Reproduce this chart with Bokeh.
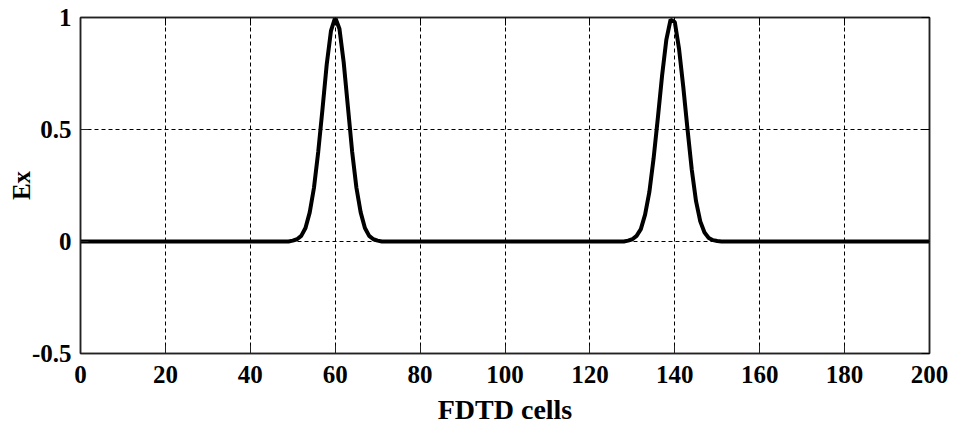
from bokeh.plotting import figure
from bokeh.models import LinearAxis, FixedTicker, Range1d
from bokeh.embed import file_html
from bokeh.resources import INLINE

# ---- data ----
cells = list(range(0, 201))
peak1_start = 50
peak1_values = [0.004, 0.01, 0.025, 0.06, 0.13, 0.24, 0.40, 0.59, 0.79, 0.94, 1.0,
                0.95, 0.80, 0.60, 0.40, 0.24, 0.13, 0.06, 0.025, 0.01, 0.004]
peak2_start = 129
peak2_values = [0.004, 0.01, 0.025, 0.055, 0.12, 0.22, 0.37, 0.55, 0.74, 0.90, 0.99,
                0.98, 0.86, 0.69, 0.50, 0.32, 0.18, 0.09, 0.04, 0.016, 0.006, 0.002]
x_ticks = [0, 20, 40, 60, 80, 100, 120, 140, 160, 180, 200]
y_ticks = [-0.5, 0, 0.5, 1]
y_tick_labels = ["-0.5", "0", "0.5", "1"]
x_label = "FDTD cells"
y_label = "Ex"

ex = [0.0] * len(cells)
for i, v in enumerate(peak1_values):
    ex[peak1_start + i] = v
for i, v in enumerate(peak2_values):
    ex[peak2_start + i] = v

FONT = "Liberation Serif"

p = figure(frame_width=849, frame_height=336, min_border_left=80, min_border_right=27,
           min_border_top=17, min_border_bottom=79,
           x_range=Range1d(0, 200), y_range=Range1d(-0.5, 1),
           output_backend="svg", toolbar_location=None,
           background_fill_color="white", border_fill_color="white")

p.line(cells, ex, line_color="black", line_width=4)

p.outline_line_color = "#222222"
p.outline_line_width = 1.5

for ax in (p.xaxis[0], p.yaxis[0]):
    ax.axis_line_color = "#222222"
    ax.axis_line_width = 1.5
    ax.major_tick_in = 8
    ax.major_tick_out = 0
    ax.minor_tick_line_color = None
    ax.major_tick_line_color = "#222222"
    ax.major_label_text_font = FONT
    ax.major_label_text_font_style = "bold"
    ax.major_label_text_font_size = "25px"
    ax.major_label_text_color = "black"
    ax.axis_label_text_font = FONT
    ax.axis_label_text_font_style = "bold"
    ax.axis_label_text_color = "black"

p.xaxis[0].ticker = FixedTicker(ticks=x_ticks)
p.xaxis[0].major_label_standoff = 12
p.xaxis[0].axis_label = x_label
p.xaxis[0].axis_label_text_font_size = "28px"
p.xaxis[0].axis_label_standoff = 8

p.yaxis[0].ticker = FixedTicker(ticks=y_ticks)
p.yaxis[0].major_label_overrides = {t: s for t, s in zip(y_ticks, y_tick_labels)}
p.yaxis[0].major_label_standoff = 9
p.yaxis[0].axis_label = y_label
p.yaxis[0].axis_label_text_font_size = "25px"
p.yaxis[0].axis_label_standoff = -6

top = LinearAxis(ticker=FixedTicker(ticks=x_ticks), major_tick_in=8, major_tick_out=0,
                 minor_tick_line_color=None,
                 major_label_overrides={t: "" for t in x_ticks},
                 major_label_standoff=0, axis_line_color="#222222", axis_line_width=1.5)
right = LinearAxis(ticker=FixedTicker(ticks=y_ticks), major_tick_in=8, major_tick_out=0,
                   minor_tick_line_color=None,
                   major_label_overrides={t: "" for t in y_ticks},
                   major_label_standoff=0, axis_line_color="#222222", axis_line_width=1.5)
p.add_layout(top, "above")
p.add_layout(right, "right")

p.xgrid.ticker = FixedTicker(ticks=x_ticks)
p.ygrid.ticker = FixedTicker(ticks=y_ticks)
for g in (p.xgrid[0], p.ygrid[0]):
    g.grid_line_color = "black"
    g.grid_line_width = 1
    g.grid_line_dash = "4 3"

open("out.html", "w").write(file_html(p, INLINE))
